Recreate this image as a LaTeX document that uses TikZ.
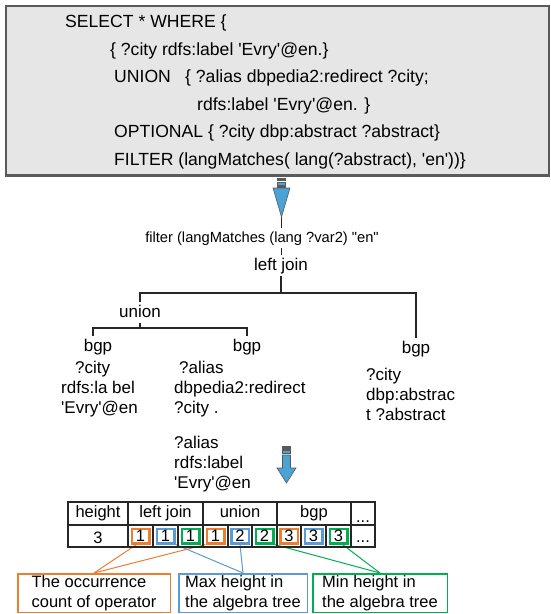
\documentclass[tikz,border=0pt]{standalone}
\usepackage{fontspec}
\newfontfamily\arial{Liberation Sans}
\usetikzlibrary{calc}
\definecolor{qgray}{HTML}{E6E6E6}
\definecolor{qedge}{HTML}{5A5A5A}
\definecolor{arrowblue}{HTML}{4BA2D5}
\definecolor{orng}{HTML}{ED7D31}
\definecolor{blu}{HTML}{5B9BD5}
\definecolor{grn}{HTML}{00B050}
\begin{document}
\begin{tikzpicture}[x=1pt,y=-1pt,
  qtext/.style={font=\arial\fontsize{17.6}{21}\selectfont, anchor=base west, inner sep=0pt},
  lbl/.style={font=\arial\fontsize{17}{20}\selectfont, anchor=base, inner sep=2.5pt, text height=12.5pt, text depth=3.5pt},
  leaf/.style={font=\arial\fontsize{17}{20}\selectfont, anchor=base west, inner sep=0pt},
  branch/.style={draw=black!85, line width=1.2pt},
  gridline/.style={draw=black!85, line width=1.2pt},
  celltext/.style={font=\arial\fontsize{16.5}{20}\selectfont, anchor=base, inner sep=0pt},
  cnt/.style={draw=#1, line width=2.5pt, fill=white, minimum width=17.5pt, minimum height=14.5pt, inner sep=0pt, font=\arial\fontsize{16.5}{20}\selectfont},
  note/.style={draw=#1, line width=1.5pt, minimum height=38.5pt, align=left, inner sep=0pt, font=\arial\fontsize{16.5}{20}\selectfont},
  tie/.style={draw=#1, line width=1pt},
  arrowpart/.style={draw=qedge, fill=arrowblue, line width=0.6pt}
]
\useasboundingbox (0,0) rectangle (551,614);
\fill[white] (0,0) rectangle (551,614);

% query box
\draw[qedge, fill=qgray, line width=1.2pt] (6,6) rectangle (549,176);
\draw[qedge, line width=2.5pt] (6,175.5) -- (549,175.5);
\node[qtext] (q1) at (65,27.5) {SELECT * WHERE \{};
\node[qtext] (q2) at (110,55) {\{ ?city rdfs:label 'Evry'@en.\}};
\node[qtext] (q3a) at (114,82.5) {UNION};
\node[qtext] (q3b) at (185,82.5) {\{ ?alias dbpedia2:redirect ?city;};
\node[qtext] (q4) at (197,110) {rdfs:label 'Evry'@en. \}};
\node[qtext] (q5) at (114,137.5) {OPTIONAL \{ ?city dbp:abstract ?abstract\}};
\node[qtext] (q6) at (114,165) {FILTER (langMatches( lang(?abstract), 'en'))\}};

% first block arrow
\fill[qedge] (277,178) rectangle (286,181);
\draw[arrowpart] (277.5,182) rectangle (285.5,185);
\fill[qedge] (277,186) rectangle (286,187.5);
\draw[arrowpart] (273,188) -- (290,188) -- (281.5,217) -- cycle;
\coordinate (tip1) at (281.5,217);

% algebra tree
\node[font=\arial\fontsize{14.7}{17}\selectfont, anchor=base, inner sep=3pt] (filt) at (262,242) {filter (langMatches (lang ?var2) "en"};
\node[lbl] (lj) at (281,270) {left join};
\node[lbl] (un) at (140,317) {union};
\node[lbl] (b1) at (98,351) {bgp};
\node[lbl] (b2) at (247,351) {bgp};
\node[lbl] (b3) at (416,353) {bgp};
\coordinate (bar) at (281,293);
\coordinate (ubar) at (140,328);

\draw[branch, line width=1pt] (tip1) -- (tip1 |- filt.north);
\draw[branch, line width=1pt] (filt.south -| lj) -- (lj.north);
\draw[branch] (lj.south) -- (bar);
\draw[branch] (un.north) |- (bar) -| (b3.north);
\draw[branch] (un.south) -- (ubar);
\draw[branch] ([xshift=-5pt]b1.north) |- (ubar) -| (b2.north);

\node[leaf] (l1) at (75,373) {?city};
\node[leaf] (l2) at (61,393) {rdfs:la bel};
\node[leaf] (l3) at (61,413) {'Evry'@en};
\node[leaf] (m1) at (179,373) {?alias};
\node[leaf] (m2) at (174,393) {dbpedia2:redirect};
\node[leaf] (m3) at (174,413) {?city .};
\node[leaf] (m4) at (174,448) {?alias};
\node[leaf] (m5) at (174,468) {rdfs:label};
\node[leaf] (m6) at (174,488) {'Evry'@en};
\node[leaf] (r1) at (366,380) {?city};
\node[leaf] (r2) at (366,400) {dbp:abstrac};
\node[leaf] (r3) at (366,420) {t ?abstract};

% second block arrow
\fill[qedge] (282,446) rectangle (291,449.5);
\draw[arrowpart] (282.5,450.5) rectangle (290.5,453.5);
\draw[arrowpart] (282.5,455) -- (290.5,455) -- (290.5,468) -- (296,468) -- (286.5,483) -- (277,468) -- (282.5,468) -- cycle;

% explanation boxes
\node[note=orng, minimum width=152.5pt] (n1) at (94,593) {The occurrence\\count of operator};
\node[note=blu, minimum width=128.5pt] (n2) at (243,593) {Max height in\\the algebra tree};
\node[note=grn, minimum width=134.5pt] (n3) at (380,593) {Min height in\\the algebra tree};

% feature table
\node[cnt=orng] (c1) at (140.5,536) {1};
\node[cnt=blu]  (c2) at (165.5,536) {1};
\node[cnt=grn]  (c3) at (190.5,536) {1};
\node[cnt=orng] (c4) at (215.5,536) {1};
\node[cnt=blu]  (c5) at (240,536) {2};
\node[cnt=grn]  (c6) at (264.5,536) {2};
\node[cnt=orng] (c7) at (289,536) {3};
\node[cnt=blu]  (c8) at (313.5,536) {3};
\node[cnt=grn]  (c9) at (338.5,536) {3};

\draw[tie=orng] ($(c1.south west)!0.3!(c1.south east)$) -- (n1.north);
\draw[tie=orng] (c4.south west) -- (n1.north);
\draw[tie=blu] (c2.south east) -- (n2.north);
\draw[tie=blu] (c5.south) -- (n2.north);
\draw[tie=grn] (c6.south east) -- (n3.north);
\draw[tie=grn] ($(c9.south west)!0.7!(c9.south east)$) -- (n3.north);

\draw[gridline] (68,502) rectangle (375,547);
\draw[gridline] (68,525) -- (375,525);
\foreach \x in {128,203,277,351} \draw[gridline] (\x,502) -- (\x,547);
\foreach \x in {153,178,228,252,301,326} \draw[gridline] (\x,525) -- (\x,547);

\node[celltext] (h1) at (98,517.5) {height};
\node[celltext] (h2) at (165.5,517.5) {left join};
\node[celltext] (h3) at (240,517.5) {union};
\node[celltext] (h4) at (314,517.5) {bgp};
\node[celltext] (h5) at (363,522.5) {...};
\node[celltext] (v1) at (98,543) {3};
\node[celltext] (v2) at (363,542.5) {...};
\end{tikzpicture}
\end{document}
